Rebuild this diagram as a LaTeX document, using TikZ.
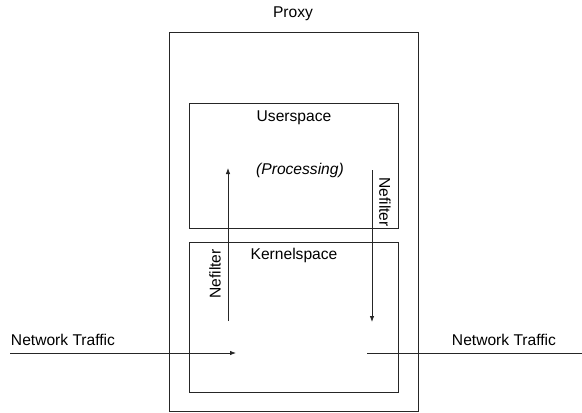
\documentclass[tikz,border=0pt]{standalone}
\usepackage{fontspec}
\setmainfont{Liberation Sans}
\usetikzlibrary{arrows.meta}
\begin{document}
\begin{tikzpicture}[x=1pt,y=-1pt,
  box/.style={draw=black!85,line width=0.8pt},
  lbl/.style={font=\fontsize{15.6}{18}\selectfont,inner sep=0pt},
  flow/.style={draw=black!85,line width=0.8pt,-{Latex[length=6pt,width=4.5pt]}},
  plain/.style={draw=black!85,line width=0.8pt}]
\useasboundingbox (0,0) rectangle (582,413);
\draw[box] (169,32) rectangle (418,411);
\draw[box] (189,103) rectangle (398,228);
\draw[box] (189,242) rectangle (398,392);
\node[lbl] (proxy) at (293,14) {Proxy};
\node[lbl] (user) at (294,118) {Userspace};
\node[lbl] (proc) at (300,170) {\itshape (Processing)};
\node[lbl] (kern) at (294,255) {Kernelspace};
\node[lbl,rotate=90] (nf1) at (215,274) {Nefilter};
\node[lbl,rotate=-90] (nf2) at (385,202) {Nefilter};
\node[lbl] (ntl) at (63,340) {Network Traffic};
\node[lbl] (ntr) at (504,340) {Network Traffic};
\coordinate (upa) at (228,321);
\coordinate (upb) at (228,168);
\coordinate (dna) at (372,170);
\coordinate (dnb) at (372,322);
\coordinate (inA) at (10,353);
\coordinate (inB) at (236,353);
\coordinate (outA) at (367,353);
\coordinate (outB) at (582,353);
\draw[flow] (upa) -- (upb);
\draw[flow] (dna) -- (dnb);
\draw[flow] (inA) -- (inB);
\draw[plain] (outA) -- (outB);
\end{tikzpicture}
\end{document}
